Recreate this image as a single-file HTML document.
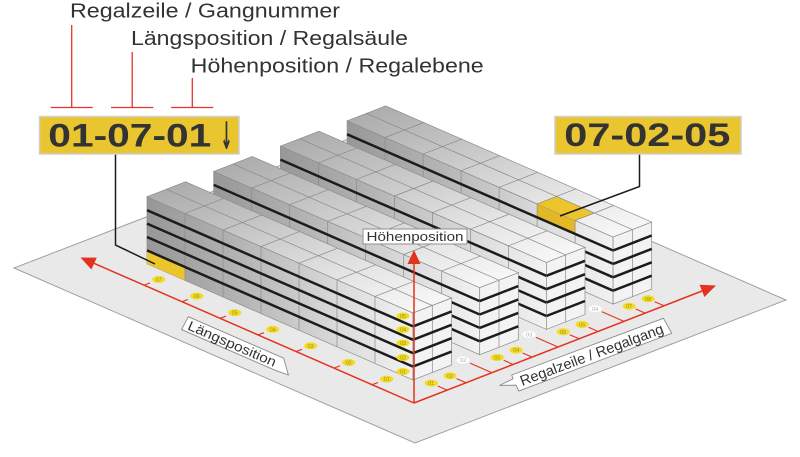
<!DOCTYPE html>
<html><head><meta charset="utf-8"><style>
html,body{margin:0;padding:0;background:#fff;width:800px;height:457px;overflow:hidden}
svg{display:block}
.o{stroke:#8c8c8c;stroke-width:.7;vector-effect:non-scaling-stroke}
.t{stroke:#8a8a8a;stroke-width:.7;fill:none;vector-effect:non-scaling-stroke}
.k{stroke:#1c1c1c;stroke-width:2.5;fill:none;vector-effect:non-scaling-stroke}
.r{stroke:#e4321f;stroke-width:1.5;fill:none}
.rt{stroke:#e4321f;stroke-width:1.1;fill:none}
.lb{font-family:"Liberation Sans",sans-serif;font-size:5.5px;fill:#9a8c40;text-anchor:middle}
.lw{font-family:"Liberation Sans",sans-serif;font-size:5.5px;fill:#aaa;text-anchor:middle}
.hd{font-family:"Liberation Sans",sans-serif;font-size:20px;fill:#333}
.big{font-family:"Liberation Sans",sans-serif;font-size:32px;font-weight:bold;fill:#333}
</style></head><body>
<svg width="800" height="457" viewBox="0 0 800 457" xmlns="http://www.w3.org/2000/svg">
<defs>
<linearGradient id="gL" x1="0" y1="0" x2="1" y2="0">
<stop offset="0" stop-color="#f2f2f2"/><stop offset="0.3" stop-color="#d8d8d8"/><stop offset="0.65" stop-color="#b4b4b4"/><stop offset="1" stop-color="#979797"/>
</linearGradient>
<linearGradient id="gT" x1="0" y1="0" x2="1" y2="0">
<stop offset="0" stop-color="#f7f7f7"/><stop offset="0.3" stop-color="#e4e4e4"/><stop offset="0.65" stop-color="#c8c8c8"/><stop offset="1" stop-color="#adadad"/>
</linearGradient>
</defs>

<!-- floor -->
<polygon points="14,268 415,443 786,300 385,125" fill="#e9e9e9" stroke="#a0a0a0" stroke-width="1"/>

<!-- long axis -->
<line class="r" x1="414" y1="403" x2="94" y2="263.3"/>
<polygon points="80.5,257.5 96.8,257.6 91.4,269.5" fill="#e4321f"/>
<g class="rt">
<line x1="372.2" y1="384.7" x2="378" y2="382.5"/>
<line x1="334.2" y1="368.1" x2="340" y2="365.8"/>
<line x1="296.2" y1="351.5" x2="302" y2="349.3"/>
<line x1="258.2" y1="334.9" x2="264" y2="332.7"/>
<line x1="220.2" y1="318.3" x2="226" y2="316.1"/>
<line x1="182.2" y1="301.7" x2="188" y2="299.5"/>
<line x1="144.2" y1="285.1" x2="150" y2="282.9"/>
</g>
<g fill="#f4dc1c">
<ellipse cx="386.7" cy="379.1" rx="6.5" ry="3.5"/>
<ellipse cx="348.7" cy="362.5" rx="6.5" ry="3.5"/>
<ellipse cx="310.7" cy="345.9" rx="6.5" ry="3.5"/>
<ellipse cx="272.7" cy="329.3" rx="6.5" ry="3.5"/>
<ellipse cx="234.7" cy="312.7" rx="6.5" ry="3.5"/>
<ellipse cx="196.7" cy="296.1" rx="6.5" ry="3.5"/>
<ellipse cx="158.7" cy="279.5" rx="6.5" ry="3.5"/>
</g>
<text class="lb" x="386.7" y="381.1">01</text>
<text class="lb" x="348.7" y="364.5">02</text>
<text class="lb" x="310.7" y="347.9">03</text>
<text class="lb" x="272.7" y="331.3">04</text>
<text class="lb" x="234.7" y="314.7">05</text>
<text class="lb" x="196.7" y="298.1">06</text>
<text class="lb" x="158.7" y="281.5">07</text>

<!-- row axis -->
<line class="r" x1="414" y1="403" x2="702" y2="291"/>
<polygon points="716,285.5 704.4,297 699.6,284.8" fill="#e4321f"/>
<g class="rt">
<line x1="447.2" y1="390.1" x2="437.7" y2="386"/>
<line x1="466.1" y1="382.75" x2="456.6" y2="378.6"/>
<line x1="513.2" y1="364.45" x2="503.7" y2="360.3"/>
<line x1="532.1" y1="357.1" x2="522.6" y2="353"/>
<line x1="579.2" y1="338.8" x2="569.7" y2="334.7"/>
<line x1="598.1" y1="331.45" x2="588.6" y2="327.3"/>
<line x1="645.2" y1="313.15" x2="635.7" y2="309"/>
<line x1="664.1" y1="305.8" x2="654.6" y2="301.7"/>
<line x1="492" y1="372.7" x2="470" y2="363.1"/>
<line x1="558" y1="347.05" x2="536" y2="337.4"/>
<line x1="624" y1="321.4" x2="602" y2="311.8"/>
</g>
<g fill="#f4dc1c">
<ellipse cx="431.2" cy="383.1" rx="6.5" ry="3.5"/>
<ellipse cx="450.1" cy="375.8" rx="6.5" ry="3.5"/>
<ellipse cx="497.2" cy="357.5" rx="6.5" ry="3.5"/>
<ellipse cx="516.1" cy="350.1" rx="6.5" ry="3.5"/>
<ellipse cx="563.2" cy="331.8" rx="6.5" ry="3.5"/>
<ellipse cx="582.1" cy="324.5" rx="6.5" ry="3.5"/>
<ellipse cx="629.2" cy="306.2" rx="6.5" ry="3.5"/>
<ellipse cx="648.1" cy="298.8" rx="6.5" ry="3.5"/>
</g>
<g fill="#ffffff">
<ellipse cx="463.1" cy="360.1" rx="6.5" ry="3.5"/>
<ellipse cx="529.1" cy="334.4" rx="6.5" ry="3.5"/>
<ellipse cx="595.1" cy="308.8" rx="6.5" ry="3.5"/>
</g>
<text class="lb" x="431.2" y="385.1">01</text>
<text class="lb" x="450.1" y="377.8">02</text>
<text class="lb" x="497.2" y="359.5">03</text>
<text class="lb" x="516.1" y="352.1">04</text>
<text class="lb" x="563.2" y="333.8">05</text>
<text class="lb" x="582.1" y="326.5">06</text>
<text class="lb" x="629.2" y="308.2">07</text>
<text class="lb" x="648.1" y="300.8">08</text>
<text class="lw" x="463.1" y="362.1">02</text>
<text class="lw" x="529.1" y="336.4">03</text>
<text class="lw" x="595.1" y="310.8">04</text>

<!-- shelf 4 (back) -->
<g transform="matrix(-38,-16.6,0,13.4,613.1,237.1)">
<rect x="0" y="0" width="7" height="5" fill="url(#gL)" class="o"/>
<rect x="1" y="0" width="1" height="1" fill="#e2b826"/>
<path class="t" d="M1 0V5M2 0V5M3 0V5M4 0V5M5 0V5M6 0V5"/>
<path class="k" d="M0 1H7M0 2H7M0 3H7M0 4H7"/>
</g>
<g transform="matrix(-38,-16.6,19.3,-7.5,613.1,237.1)">
<rect x="0" y="0" width="7" height="2" fill="url(#gT)" class="o"/>
<rect x="1" y="0" width="1" height="1" fill="#ecc52c"/>
<path class="t" d="M1 0V2M2 0V2M3 0V2M4 0V2M5 0V2M6 0V2M0 1H7"/>
</g>
<g transform="matrix(19.3,-7.5,0,13.4,613.1,237.1)">
<rect x="0" y="0" width="2" height="5" fill="#f3f3f3" class="o"/>
<path class="t" d="M1 0V5"/>
<path class="k" d="M0 1H2M0 2H2M0 3H2M0 4H2"/>
</g>

<!-- shelf 3 -->
<g transform="matrix(-38,-16.6,0,13.4,546.4,262.4)">
<rect x="0" y="0" width="7" height="5" fill="url(#gL)" class="o"/>
<path class="t" d="M1 0V5M2 0V5M3 0V5M4 0V5M5 0V5M6 0V5"/>
<path class="k" d="M0 1H7M0 2H7M0 3H7M0 4H7"/>
</g>
<g transform="matrix(-38,-16.6,19.3,-7.5,546.4,262.4)">
<rect x="0" y="0" width="7" height="2" fill="url(#gT)" class="o"/>
<path class="t" d="M1 0V2M2 0V2M3 0V2M4 0V2M5 0V2M6 0V2M0 1H7"/>
</g>
<g transform="matrix(19.3,-7.5,0,13.4,546.4,262.4)">
<rect x="0" y="0" width="2" height="5" fill="#f3f3f3" class="o"/>
<path class="t" d="M1 0V5"/>
<path class="k" d="M0 1H2M0 2H2M0 3H2M0 4H2"/>
</g>

<!-- shelf 2 -->
<g transform="matrix(-38,-16.6,0,13.4,479.7,287.7)">
<rect x="0" y="0" width="7" height="5" fill="url(#gL)" class="o"/>
<path class="t" d="M1 0V5M2 0V5M3 0V5M4 0V5M5 0V5M6 0V5"/>
<path class="k" d="M0 1H7M0 2H7M0 3H7M0 4H7"/>
</g>
<g transform="matrix(-38,-16.6,19.3,-7.5,479.7,287.7)">
<rect x="0" y="0" width="7" height="2" fill="url(#gT)" class="o"/>
<path class="t" d="M1 0V2M2 0V2M3 0V2M4 0V2M5 0V2M6 0V2M0 1H7"/>
</g>
<g transform="matrix(19.3,-7.5,0,13.4,479.7,287.7)">
<rect x="0" y="0" width="2" height="5" fill="#f3f3f3" class="o"/>
<path class="t" d="M1 0V5"/>
<path class="k" d="M0 1H2M0 2H2M0 3H2M0 4H2"/>
</g>

<!-- shelf 1 (front) -->
<g transform="matrix(-38,-16.6,0,13.4,413,313)">
<rect x="0" y="0" width="7" height="5" fill="url(#gL)" class="o"/>
<rect x="6" y="4" width="1" height="1" fill="#ecc52c"/>
<path class="t" d="M1 0V5M2 0V5M3 0V5M4 0V5M5 0V5M6 0V5"/>
<path class="k" d="M0 1H7M0 2H7M0 3H7M0 4H7"/>
</g>
<g transform="matrix(-38,-16.6,19.3,-7.5,413,313)">
<rect x="0" y="0" width="7" height="2" fill="url(#gT)" class="o"/>
<path class="t" d="M1 0V2M2 0V2M3 0V2M4 0V2M5 0V2M6 0V2M0 1H7"/>
</g>
<g transform="matrix(19.3,-7.5,0,13.4,413,313)">
<rect x="0" y="0" width="2" height="5" fill="#f3f3f3" class="o"/>
<path class="t" d="M1 0V5"/>
<path class="k" d="M0 1H2M0 2H2M0 3H2M0 4H2"/>
</g>

<!-- level labels -->
<g fill="#f4dc1c">
<ellipse cx="403" cy="316" rx="6.5" ry="3.5"/>
<ellipse cx="403" cy="329.5" rx="6.5" ry="3.5"/>
<ellipse cx="403" cy="343" rx="6.5" ry="3.5"/>
<ellipse cx="403" cy="357.5" rx="6.5" ry="3.5"/>
<ellipse cx="403" cy="371.5" rx="6.5" ry="3.5"/>
</g>
<text class="lb" x="403" y="318">05</text>
<text class="lb" x="403" y="331.5">04</text>
<text class="lb" x="403" y="345">03</text>
<text class="lb" x="403" y="359.5">02</text>
<text class="lb" x="403" y="373.5">01</text>

<!-- vertical axis -->
<line class="r" x1="414" y1="403" x2="414" y2="263"/>
<polygon points="414,250 420.5,264 407.5,264" fill="#e4321f"/>

<!-- Höhenposition label -->
<rect x="363" y="229" width="104" height="15" fill="#fff" stroke="#8f8f8f" stroke-width="1"/>
<text x="366.5" y="241" font-family="Liberation Sans, sans-serif" font-size="13" fill="#333" textLength="97" lengthAdjust="spacingAndGlyphs">Höhenposition</text>

<!-- Längsposition label -->
<g transform="translate(188.3,316.7) rotate(23.5)">
<polygon points="0,0 104,0 115,13.5 103,14.5 -1,14.5" fill="#fff" stroke="#8a8a8a" stroke-width="0.9"/>
<text x="3.5" y="12" font-family="Liberation Sans, sans-serif" font-size="13.5" fill="#333" textLength="95" lengthAdjust="spacingAndGlyphs">Längsposition</text>
</g>

<!-- Regalzeile label -->
<g transform="translate(511.7,375) rotate(-20.5)">
<polygon points="0,0 162,0 164.5,17 1,17.5 0.5,11 -15,5.5 0,4" fill="#fff" stroke="#8a8a8a" stroke-width="0.9"/>
<text x="6" y="14" font-family="Liberation Sans, sans-serif" font-size="14.5" fill="#333" textLength="152" lengthAdjust="spacingAndGlyphs">Regalzeile / Regalgang</text>
</g>

<!-- leaders -->
<polyline points="115.5,154 115.5,245 155,264" fill="none" stroke="#1a1a1a" stroke-width="1.5"/>
<polyline points="639.5,154 639.5,186.5 560,216" fill="none" stroke="#1a1a1a" stroke-width="1.5"/>

<!-- yellow boxes -->
<rect x="39.5" y="116.5" width="199.5" height="37.5" fill="#e9c52f" stroke="#cfcfcf" stroke-width="1.5"/>
<text class="big" x="48.3" y="146.7" textLength="163" lengthAdjust="spacingAndGlyphs">01-07-01</text>
<text x="220.5" y="149" font-family="DejaVu Sans, sans-serif" font-size="38" font-weight="bold" fill="#333" textLength="12" lengthAdjust="spacingAndGlyphs">↓</text>

<rect x="555" y="116.5" width="186" height="37.5" fill="#e9c52f" stroke="#cfcfcf" stroke-width="1.5"/>
<text class="big" x="564.3" y="146" textLength="166" lengthAdjust="spacingAndGlyphs">07-02-05</text>

<!-- header texts -->
<text class="hd" x="70" y="17.5" textLength="270" lengthAdjust="spacingAndGlyphs">Regalzeile / Gangnummer</text>
<text class="hd" x="131" y="45" textLength="277" lengthAdjust="spacingAndGlyphs">Längsposition / Regalsäule</text>
<text class="hd" x="190.7" y="72.5" textLength="293" lengthAdjust="spacingAndGlyphs">Höhenposition / Regalebene</text>

<!-- red brackets -->
<g stroke="#e8322a" stroke-width="1.3" fill="none">
<line x1="71.7" y1="25" x2="71.7" y2="107.5"/>
<line x1="50.7" y1="107.5" x2="92.7" y2="107.5"/>
<line x1="132.2" y1="52" x2="132.2" y2="107.5"/>
<line x1="111" y1="107.5" x2="153.3" y2="107.5"/>
<line x1="192.3" y1="78" x2="192.3" y2="107.5"/>
<line x1="171" y1="107.5" x2="213.3" y2="107.5"/>
</g>
</svg>
</body></html>
